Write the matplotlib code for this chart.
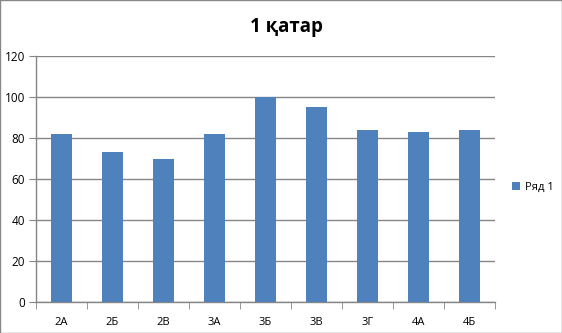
import matplotlib
matplotlib.use("Agg")
import matplotlib.pyplot as plt
from matplotlib.patches import Rectangle

categories = ["2А", "2Б", "2В", "3А", "3Б", "3В", "3Г", "4А", "4Б"]
values = [82, 73, 70, 82, 100, 95, 84, 83, 84]
series_name = "Ряд 1"
title = "1 қатар"
yticks = [0, 20, 40, 60, 80, 100, 120]

W, H = 562, 333
fig = plt.figure(figsize=(W / 100, H / 100), dpi=100)
plt.rcParams['font.family'] = ['Open Sans', 'DejaVu Sans']
ax = fig.add_axes([36 / W, 1 - 302 / H, (495 - 36) / W, (302 - 56) / H])

grid_c = "#868686"
x = list(range(len(categories)))
ax.bar(x, values, width=0.4, color="#4F81BD", zorder=3, label=series_name)
ax.set_xlim(-0.5, len(categories) - 0.5)
ax.set_ylim(0, 120)
ax.set_yticks(yticks)
ax.set_yticklabels([str(v) for v in yticks], fontsize=8.5)
ax.set_xticks(x)
ax.set_xticklabels(categories, fontsize=8)
ax.set_xticks([i - 0.5 for i in range(len(categories) + 1)], minor=True)
ax.tick_params(axis="x", which="major", length=0, pad=11)
ax.tick_params(axis="x", which="minor", length=5, color=grid_c, direction="out")
ax.tick_params(axis="y", length=5, color=grid_c, direction="out", pad=3)
ax.grid(axis="y", color=grid_c, linewidth=1, zorder=0)
for s in ["top", "right"]:
    ax.spines[s].set_visible(False)
for s in ["left", "bottom"]:
    ax.spines[s].set_color(grid_c)
    ax.spines[s].set_linewidth(1)

fig.text(286 / W, 1 - 27 / H, title, ha="center", va="center", fontsize=13.5, fontweight="bold")
leg = ax.legend(loc="center left", bbox_to_anchor=(1.015, 0.465), frameon=False, fontsize=8,
                handlelength=0.7, handleheight=0.7, handletextpad=0.5)

fig.patches.append(Rectangle((0, 0), 1, 1, transform=fig.transFigure, fill=False,
                             edgecolor="#888888", linewidth=1))
fig.savefig("out.png", dpi=100)
